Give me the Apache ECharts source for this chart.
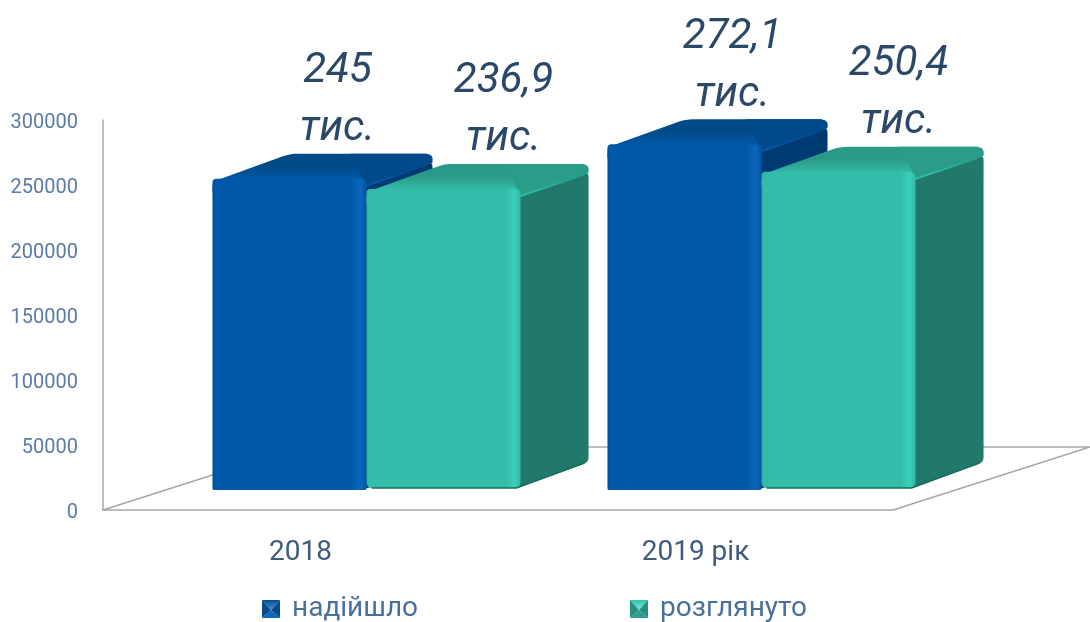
<!DOCTYPE html>
<html>
<head>
<meta charset="utf-8">
<style>
  html, body { margin: 0; padding: 0; background: #fff; }
  #chart { width: 1090px; height: 622px; }
</style>
<script src="https://cdn.jsdelivr.net/npm/echarts@6/dist/echarts.min.js"></script>
</head>
<body>
<div id="chart"></div>
<script>
  const categories = ['2018', '2019 рік'];
  const received = [245000, 272100];
  const reviewed = [236900, 250400];
  const receivedLabels = ['245\nтис.', '272,1\nтис.'];
  const reviewedLabels = ['236,9\nтис.', '250,4\nтис.'];
  const yTicks = [0, 50000, 100000, 150000, 200000, 250000, 300000];

  const FONT = 'Roboto, "Liberation Sans", sans-serif';

  const blue = {
    front: ['#00509c', '#0059a8', '#0059a8', '#0a66bc', '#0056a2'],
    top: ['#004a88', '#0059a8'],
    ridge: '#004a8c',
    side: '#003a72',
    edge: null,
    depth: 66,
    baseRadius: 2,
  };
  const teal = {
    front: ['#2fb3a1', '#34bcaa', '#34bcaa', '#39cfba', '#30b8a5'],
    top: ['#299a86', '#34bcaa'],
    ridge: '#2a9d89',
    side: '#21796b',
    edge: '#1a6b5e',
    depth: 68,
    baseRadius: 6,
  };

  // small svg pyramids for the legend, same look as the office chart markers
  function pyramidIcon(outer, core, sides, bottom) {
    const svg =
      '<svg xmlns="http://www.w3.org/2000/svg" width="18" height="18">' +
      `<linearGradient id="g" x1="0" y1="0" x2="0" y2="1"><stop offset="0" stop-color="${outer}"/>` +
      `<stop offset="1" stop-color="${core}"/></linearGradient>` +
      `<polygon points="0,0 18,0 9,10" fill="url(#g)"/>` +
      `<polygon points="0,0 0,18 9,10" fill="${sides}"/>` +
      `<polygon points="18,0 18,18 9,10" fill="${sides}"/>` +
      `<polygon points="0,18 18,18 9,10" fill="${bottom}"/>` +
      '</svg>';
    return 'image://data:image/svg+xml;charset=utf-8,' + encodeURIComponent(svg);
  }

  // rounds polygon corners with a few bezier points, radius can differ per corner
  function rounded(pts, radii) {
    const out = [];
    const n = pts.length;
    for (let i = 0; i < n; i++) {
      const r = Array.isArray(radii) ? radii[i] : radii;
      const p = pts[i];
      if (!r) {
        out.push(p);
        continue;
      }
      const prev = pts[(i + n - 1) % n];
      const next = pts[(i + 1) % n];
      const lp = Math.hypot(prev[0] - p[0], prev[1] - p[1]);
      const ln = Math.hypot(next[0] - p[0], next[1] - p[1]);
      const kp = Math.min(r / lp, 0.5);
      const kn = Math.min(r / ln, 0.5);
      const a = [p[0] + (prev[0] - p[0]) * kp, p[1] + (prev[1] - p[1]) * kp];
      const b = [p[0] + (next[0] - p[0]) * kn, p[1] + (next[1] - p[1]) * kn];
      for (let t = 0; t <= 1; t += 0.25) {
        const u = 1 - t;
        out.push([
          u * u * a[0] + 2 * u * t * p[0] + t * t * b[0],
          u * u * a[1] + 2 * u * t * p[1] + t * t * b[1],
        ]);
      }
    }
    return out;
  }

  function hGrad(c) {
    return new echarts.graphic.LinearGradient(0, 0, 1, 0, [
      { offset: 0, color: c[0] },
      { offset: 0.02, color: c[1] },
      { offset: 0.9, color: c[2] },
      { offset: 0.96, color: c[3] },
      { offset: 1, color: c[4] },
    ]);
  }

  function vGrad(c) {
    return new echarts.graphic.LinearGradient(0, 0, 0, 1, [
      { offset: 0, color: c[0] },
      { offset: 0.3, color: c[0] },
      { offset: 0.68, color: c[1] },
      { offset: 1, color: c[1] },
    ]);
  }

  // one 3d column: side face, top face, front face and the two line label
  function makeBar(colors, labels, slot, baseLift, labelShift) {
    return (params, api) => {
      const idx = api.value(0);
      const top = api.coord([idx, api.value(1)]);
      const zero = api.coord([idx, 0]);
      const w = api.size([1, 0])[0] * 0.39;
      const cx = top[0] + 66;
      const x0 = cx + (slot - 1) * w;
      const x1 = x0 + w;
      const yt = top[1] - 1;
      const base = zero[1] - baseLift;
      const d = colors.depth;

      const side = rounded([
        [x1 - 4, yt + 6],
        [x1 + d, yt - 17],
        [x1 + d, base - 26],
        [x1 - 4, base],
      ], 5);
      const roof = rounded([
        [x0, yt + 14],
        [x0, yt + 3],
        [x0 + 78, yt - 25],
        [x1 + d, yt - 25],
        [x1 + d, yt - 15],
        [x1, yt + 8],
      ], [0, 6, 8, 8, 8, 0]);
      const ridge = [
        [x1 - 16, yt - 25],
        [x1 + d - 6, yt - 25],
        [x1 + d, yt - 20],
        [x1 + d, yt - 16],
        [x1, yt + 6],
      ];
      const front = rounded([
        [x0, yt],
        [x1, yt],
        [x1, base],
        [x0, base],
      ], [4, 6, colors.baseRadius, colors.baseRadius]);

      const children = [
        { type: 'polygon', shape: { points: side }, style: { fill: colors.side } },
        { type: 'polygon', shape: { points: roof }, style: { fill: vGrad(colors.top) } },
        { type: 'polygon', shape: { points: ridge }, style: { fill: colors.ridge } },
        { type: 'polygon', shape: { points: front }, style: { fill: hGrad(colors.front) } },
      ];
      if (colors.edge) {
        children.push({
          type: 'polyline',
          shape: {
            points: [
              [x0 + 5, base],
              [x1 - 4, base],
              [x1 + d - 4, base - 25],
            ],
          },
          style: { stroke: colors.edge, lineWidth: 1.5, fill: null },
        });
      }
      children.push({
        type: 'text',
        style: {
          text: labels[idx],
          x: (x0 + x1) / 2 + labelShift,
          y: yt - 78,
          align: 'center',
          verticalAlign: 'middle',
          fontFamily: FONT,
          fontStyle: 'italic',
          fontSize: 42,
          lineHeight: 58,
          fill: '#2b4868',
        },
      });
      return { type: 'group', children };
    };
  }

  const legendText = {
    fontFamily: FONT,
    fontSize: 28,
    color: '#4a6f9c',
    padding: [0, 0, 0, 7],
  };

  const chart = echarts.init(document.getElementById('chart'));

  chart.setOption({
    animation: false,
    backgroundColor: '#fff',
    legend: [
      {
        left: 257,
        top: 590,
        itemWidth: 18,
        itemHeight: 18,
        itemGap: 0,
        data: [{ name: 'надійшло', icon: pyramidIcon('#0a4788', '#3a9ae0', '#0a4a8c', '#0b68bb') }],
        textStyle: legendText,
        selectedMode: false,
      },
      {
        left: 625,
        top: 590,
        itemWidth: 18,
        itemHeight: 18,
        itemGap: 0,
        data: [{ name: 'розглянуто', icon: pyramidIcon('#35c0ad', '#6ff0e0', '#26917f', '#2ba08e') }],
        textStyle: legendText,
        selectedMode: false,
      },
    ],
    grid: [
      { left: 103, width: 790, top: 120, height: 390 },
      { left: 103, width: 790, top: 110, height: 380 },
    ],
    xAxis: [
      {
        type: 'category',
        gridIndex: 0,
        data: categories,
        axisTick: { show: false },
        axisLine: { lineStyle: { color: '#a6a6a6', width: 1.5 } },
        axisLabel: { fontFamily: FONT, fontSize: 28, color: '#3f5a7a', margin: 29 },
      },
      {
        type: 'category',
        gridIndex: 1,
        data: categories,
        show: false,
      },
    ],
    yAxis: [
      {
        type: 'value',
        gridIndex: 0,
        min: 0,
        max: 300000,
        interval: 50000,
        axisLine: { show: true, lineStyle: { color: '#a6a6a6', width: 1.5 } },
        axisTick: { show: false },
        splitLine: { show: false },
        axisLabel: {
          fontFamily: FONT,
          fontSize: 20,
          color: '#5a7ba6',
          margin: 25,
          verticalAlign: 'top',
          lineHeight: 6,
          formatter: (v) => (yTicks.includes(v) ? String(v) : ''),
        },
      },
      {
        type: 'value',
        gridIndex: 1,
        min: 0,
        max: 300000,
        show: false,
      },
    ],
    // floor of the 3d box
    graphic: {
      elements: [
        {
          type: 'polyline',
          z: 1,
          shape: { points: [[103, 510], [300, 447], [1090, 447], [893, 510]] },
          style: { stroke: '#a6a6a6', lineWidth: 1.5, fill: null },
        },
      ],
    },
    series: [
      {
        name: 'надійшло',
        type: 'custom',
        xAxisIndex: 1,
        yAxisIndex: 1,
        z: 5,
        renderItem: makeBar(blue, receivedLabels, 0, 0, 48),
        encode: { x: 0, y: 1 },
        data: received.map((v, i) => [i, v]),
      },
      {
        name: 'розглянуто',
        type: 'custom',
        xAxisIndex: 1,
        yAxisIndex: 1,
        z: 6,
        renderItem: makeBar(teal, reviewedLabels, 1, 2, 60),
        encode: { x: 0, y: 1 },
        data: reviewed.map((v, i) => [i, v]),
      },
    ],
  });

  window.addEventListener('resize', () => chart.resize());
</script>
</body>
</html>
